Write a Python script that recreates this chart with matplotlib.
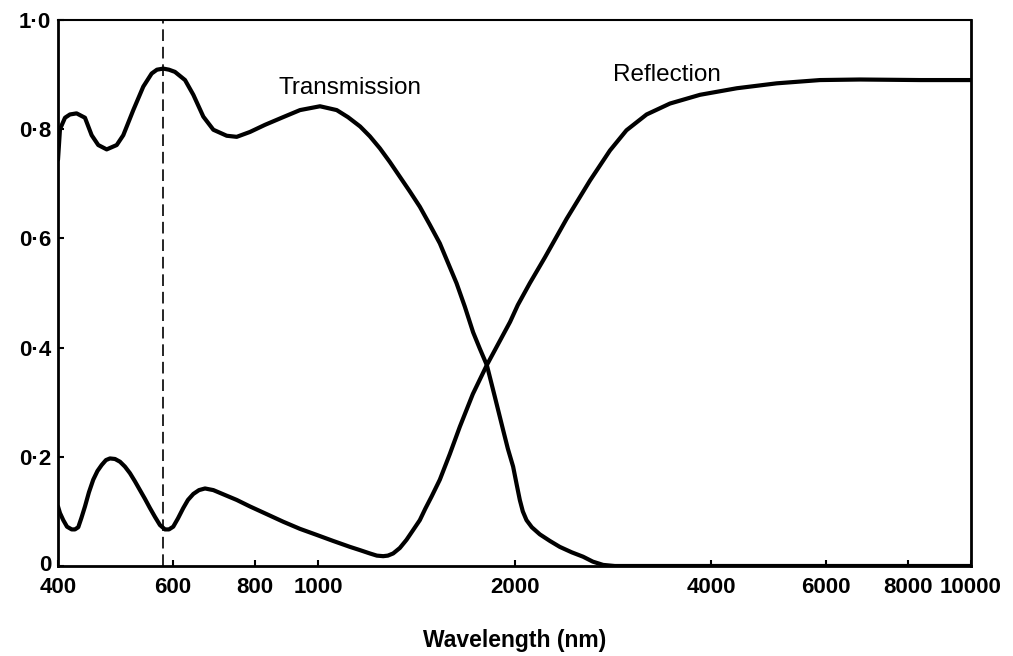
import matplotlib
matplotlib.use("Agg")
import matplotlib.pyplot as plt
import matplotlib.transforms as mtransforms
from matplotlib.ticker import FixedLocator, FixedFormatter, NullLocator

# Data (wavelength in nm, fraction)
trans_wl = [400, 402.8, 410.0, 417.2, 427.1, 439.9, 450.4, 461.0, 474.9, 492.0,
            503.5, 521.6, 540.3, 556.5, 567.0, 579.7, 591.5, 604.1, 626.0, 644.6,
            667.7, 691.7, 725.1, 751.1, 787.2, 829.9, 884.3, 938.9, 1007.4, 1068.6,
            1112.1, 1160.5, 1201.0, 1244.2, 1288.6, 1334.9, 1382.8, 1432.4, 1483.8, 1537.0,
            1581.0, 1630.3, 1678.7, 1728.6, 1769.9, 1814.1, 1866.0, 1921.4, 1953.5, 1990.3,
            2016.4, 2037.8, 2059.5, 2086.5, 2125.9, 2186.7, 2265.1, 2346.4, 2447.8, 2547.3,
            2636.0, 2733.5, 2849.0, 10000]
trans_val = [0.744, 0.800, 0.821, 0.827, 0.829, 0.821, 0.789, 0.771, 0.763, 0.771,
             0.789, 0.835, 0.878, 0.902, 0.909, 0.911, 0.909, 0.905, 0.890, 0.863,
             0.823, 0.799, 0.788, 0.786, 0.795, 0.808, 0.822, 0.835, 0.842, 0.835,
             0.822, 0.805, 0.787, 0.765, 0.740, 0.713, 0.686, 0.658, 0.625, 0.591,
             0.556, 0.518, 0.475, 0.428, 0.398, 0.368, 0.310, 0.249, 0.215, 0.182,
             0.148, 0.121, 0.100, 0.084, 0.071, 0.058, 0.046, 0.035, 0.025, 0.017,
             0.008, 0.002, 0.0, 0.0]

refl_wl = [400, 402.8, 407.5, 412.9, 419.8, 424.6, 429.6, 434.4, 439.9, 446.1,
           452.9, 459.7, 466.6, 473.7, 480.4, 489.0, 497.7, 506.5, 515.5, 524.7,
           534.0, 543.5, 553.2, 563.0, 573.0, 583.3, 591.5, 600.5, 610.5, 622.0,
           632.5, 644.6, 657.6, 671.7, 691.7, 720.7, 751.1, 787.2, 834.9, 885.2,
           938.9, 995.6, 1054.7, 1119.8, 1160.5, 1201.0, 1231.1, 1258.8, 1279.7, 1303.9,
           1334.9, 1366.8, 1397.5, 1432.4, 1460.4, 1492.7, 1537.0, 1592.1, 1649.3, 1726.8,
           1814.1, 1900.7, 1968.9, 2023.5, 2111.0, 2225.9, 2403.8, 2609.8, 2800.0, 2967.9,
           3186.5, 3460.0, 3846.8, 4379.4, 5039.6, 5872.8, 6760.0, 8354.7, 10000]
refl_val = [0.109, 0.097, 0.084, 0.072, 0.067, 0.067, 0.071, 0.088, 0.109, 0.135,
            0.158, 0.174, 0.185, 0.194, 0.197, 0.196, 0.191, 0.182, 0.170, 0.155,
            0.139, 0.123, 0.106, 0.090, 0.075, 0.067, 0.067, 0.072, 0.087, 0.106,
            0.121, 0.132, 0.139, 0.142, 0.139, 0.130, 0.121, 0.109, 0.095, 0.081,
            0.068, 0.057, 0.046, 0.035, 0.029, 0.023, 0.019, 0.018, 0.019, 0.023,
            0.033, 0.048, 0.065, 0.084, 0.105, 0.127, 0.158, 0.205, 0.255, 0.315,
            0.368, 0.413, 0.447, 0.478, 0.518, 0.565, 0.636, 0.706, 0.761, 0.798,
            0.827, 0.847, 0.863, 0.875, 0.884, 0.890, 0.891, 0.890, 0.890]

marker_wl = 579
x_ticks = [400, 600, 800, 1000, 2000, 4000, 6000, 8000, 10000]
x_tick_labels = ["400", "600", "800", "1000", "2000", "4000", "6000", "8000", "10000"]
y_ticks = [0, 0.2, 0.4, 0.6, 0.8, 1.0]
y_tick_labels = ["0", "0·2", "0·4", "0·6", "0·8", "1·0"]

plt.rcParams['font.family'] = ['Liberation Sans', 'DejaVu Sans']

fig = plt.figure(figsize=(10.13, 6.56), dpi=100)
ax = fig.add_axes([58/1013, 1-566/656, (971-58)/1013, (566-20)/656])

ax.plot(trans_wl, trans_val, color='black', lw=3.0, solid_capstyle='round', solid_joinstyle='round')
ax.plot(refl_wl, refl_val, color='black', lw=3.0, solid_capstyle='round', solid_joinstyle='round')
ax.axvline(marker_wl, color='black', lw=1.2, dashes=(7, 3.5))

ax.set_xscale('log')
ax.set_xlim(400, 10000)
ax.set_ylim(0, 1.0)

ax.xaxis.set_major_locator(FixedLocator(x_ticks))
ax.xaxis.set_major_formatter(FixedFormatter(x_tick_labels))
ax.xaxis.set_minor_locator(NullLocator())
ax.yaxis.set_major_locator(FixedLocator(y_ticks))
ax.yaxis.set_major_formatter(FixedFormatter(y_tick_labels))

ax.tick_params(direction='in', length=4, width=1.5, labelsize=16)
ax.tick_params(axis='x', pad=8)
ax.tick_params(axis='y', pad=5)
for lab in ax.get_xticklabels() + ax.get_yticklabels():
    lab.set_fontweight('bold')

# nudge the "0" label up slightly so it clears the "400" label
zero_lab = ax.yaxis.get_major_ticks()[0].label1
zero_lab.set_transform(zero_lab.get_transform() +
                       mtransforms.ScaledTranslation(0, 3/100, fig.dpi_scale_trans))

for side in ['left', 'bottom', 'right']:
    ax.spines[side].set_linewidth(2.0)
ax.spines['top'].set_linewidth(1.5)

ax.text(870, 0.875, "Transmission", fontsize=17.5, ha='left', va='center')
ax.text(2830, 0.899, "Reflection", fontsize=17.5, ha='left', va='center')

fig.text((58 + 971) / 2 / 1013, 1 - 640/656, "Wavelength (nm)", fontsize=16.5,
         fontweight='bold', ha='center', va='center')

fig.savefig("out.png", dpi=100)
